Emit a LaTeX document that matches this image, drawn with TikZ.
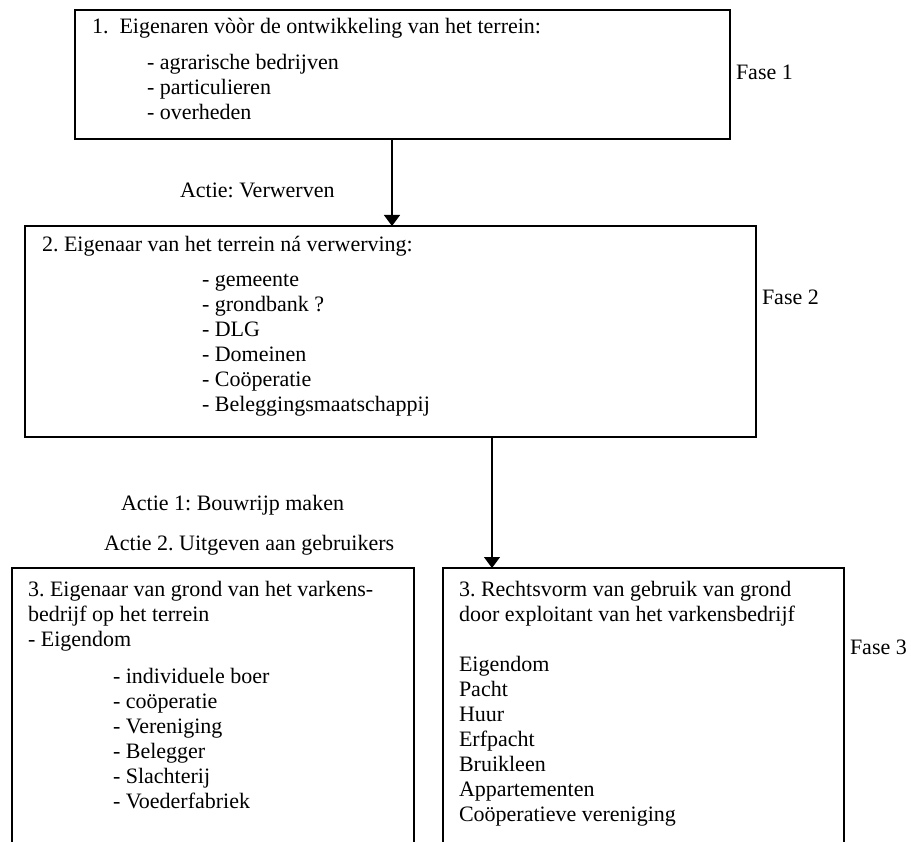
\documentclass[tikz,border=0pt]{standalone}
\usepackage{fontspec}
\setmainfont{Liberation Serif}
\usetikzlibrary{arrows.meta}
\begin{document}
\frenchspacing
\begin{tikzpicture}[x=1pt,y=-1pt,
  every node/.style={inner sep=0pt, outer sep=0pt},
  box/.style={draw, line width=1.3pt, rectangle},
  openbox/.style={rectangle},
  txt/.style={font=\fontsize{22}{25}\selectfont, align=left, anchor=base west},
  arr/.style={line width=1.3pt, -{Triangle[width=16pt,length=11pt]}}]
\useasboundingbox (0,0) rectangle (911,842);

% boxes
\node[box, minimum width=655pt, minimum height=129pt] (b1) at (402.5,74.5) {};
\node[box, minimum width=731pt, minimum height=211pt] (b2) at (390.5,331.5) {};
\node[openbox, minimum width=402pt, minimum height=274pt] (b3l) at (213,705) {};
\node[openbox, minimum width=401pt, minimum height=274pt] (b3r) at (643.5,705) {};
\draw[line width=1.3pt] (b3l.south west) -- (b3l.north west) -- (b3l.north east) -- (b3l.south east);
\draw[line width=1.3pt] (b3r.south west) -- (b3r.north west) -- (b3r.north east) -- (b3r.south east);

% texts (multi-line nodes: anchor is the baseline of the last line)
\node[txt] (t1) at (92,33.5) {1.\hspace{0.5em}Eigenaren vòòr de ontwikkeling van het terrein:};
\node[txt] (t1i) at (147,120) {- agrarische bedrijven\\- particulieren\\- overheden};
\node[txt] (f1) at (736,79.5) {Fase 1};
\node[txt] (ac0) at (180,198) {Actie: Verwerven};

\node[txt] (t2) at (42,251.5) {2. Eigenaar van het terrein ná verwerving:};
\node[txt] (t2i) at (202,411.5) {- gemeente\\- grondbank ?\\- DLG\\- Domeinen\\- Coöperatie\\- Beleggingsmaatschappij};
\node[txt] (f2) at (762,304.5) {Fase 2};

\node[txt] (ac1) at (121,510.5) {Actie 1: Bouwrijp maken};
\node[txt] (ac2) at (104,550.5) {Actie 2. Uitgeven aan gebruikers};

\node[txt] (t3l) at (28,646.5) {3. Eigenaar van grond van het varkens-\\bedrijf op het terrein\\- Eigendom};
\node[txt] (t3li) at (113,808.5) {- individuele boer\\- coöperatie\\- Vereniging\\- Belegger\\- Slachterij\\- Voederfabriek};

\node[txt] (t3r) at (459,621.5) {3. Rechtsvorm van gebruik van grond\\door exploitant van het varkensbedrijf};
\node[txt] (t3ri) at (459,821.5) {Eigendom\\Pacht\\Huur\\Erfpacht\\Bruikleen\\Appartementen\\Coöperatieve vereniging};
\node[txt] (f3) at (850,654.5) {Fase 3};

% connectors
\coordinate (a1) at (392,0);
\coordinate (a2) at (492,0);
\draw[arr] (b1.south -| a1) -- (b2.north -| a1);
\draw[arr] (b2.south -| a2) -- (b3r.north -| a2);
\end{tikzpicture}
\end{document}
